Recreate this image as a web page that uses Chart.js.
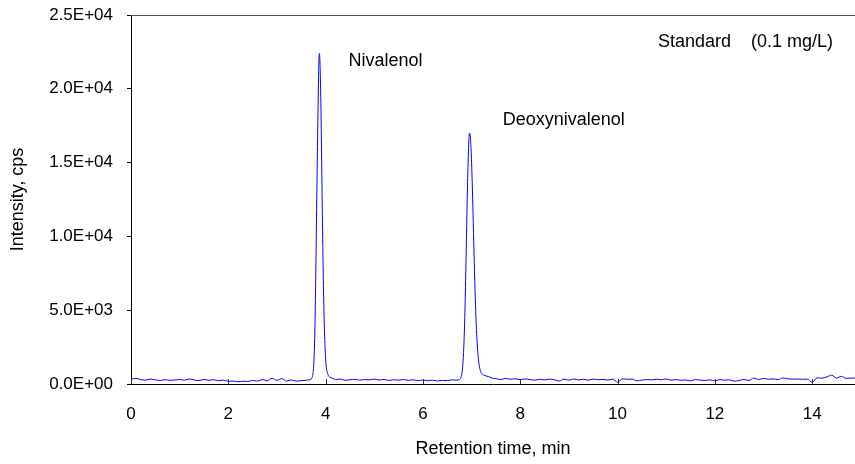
<!DOCTYPE html>
<html>
<head>
<meta charset="utf-8">
<script src="https://cdn.jsdelivr.net/npm/chart.js@4/dist/chart.umd.min.js"></script>
<style>
  html, body { margin: 0; padding: 0; background: #fff; }
  #wrap { width: 855px; height: 464px; position: relative; }
</style>
</head>
<body>
<div id="wrap"><canvas id="chart"></canvas></div>
<script>
// retention time (min) and intensity (cps)
const times = [
  0.0, 0.1, 0.2, 0.3, 0.4, 0.5, 0.6, 0.7, 0.8, 0.9,
  1.0, 1.1, 1.2, 1.3, 1.4, 1.5, 1.6, 1.7, 1.8, 1.9,
  2.0, 2.1, 2.2, 2.3, 2.4, 2.5, 2.6, 2.7, 2.8, 2.9,
  3.0, 3.1, 3.2, 3.3, 3.4, 3.5, 3.6,
  // nivalenol peak
  3.65, 3.70, 3.72, 3.74, 3.76, 3.78, 3.80, 3.82, 3.84, 3.86, 3.87, 3.88,
  3.90, 3.92, 3.94, 3.96, 3.98, 4.00, 4.02, 4.04, 4.06, 4.08, 4.11,
  4.15, 4.2, 4.3, 4.4, 4.5, 4.6, 4.7, 4.8, 4.9,
  5.0, 5.1, 5.2, 5.3, 5.4, 5.5, 5.6, 5.7, 5.8, 5.9,
  6.0, 6.1, 6.2, 6.3, 6.4, 6.5, 6.6, 6.7, 6.74,
  // deoxynivalenol peak
  6.76, 6.78, 6.80, 6.82, 6.84, 6.86, 6.88, 6.90, 6.92, 6.94, 6.96, 6.98,
  7.00, 7.02, 7.04, 7.06, 7.08, 7.10, 7.12, 7.14, 7.16, 7.18, 7.21, 7.25,
  7.30, 7.35, 7.40, 7.45,
  7.5, 7.6, 7.7, 7.8, 7.9, 8.0, 8.1, 8.2, 8.3, 8.4, 8.5, 8.6, 8.7, 8.8, 8.9,
  9.0, 9.1, 9.2, 9.3, 9.4, 9.5, 9.6, 9.7, 9.8, 9.9,
  10.0, 10.1, 10.2, 10.3, 10.4, 10.5, 10.6, 10.7, 10.8, 10.9,
  11.0, 11.1, 11.2, 11.3, 11.4, 11.5, 11.6, 11.7, 11.8, 11.9,
  12.0, 12.1, 12.2, 12.3, 12.4, 12.5, 12.6, 12.7, 12.8, 12.9,
  13.0, 13.1, 13.2, 13.3, 13.4, 13.5, 13.6, 13.7, 13.8, 13.9,
  14.0, 14.1, 14.2, 14.3, 14.4, 14.5, 14.6, 14.7, 14.8, 14.9
];
const intensity = [
  320, 380, 300, 260, 330, 280, 240, 290, 250, 270,
  300, 260, 340, 270, 230, 310, 250, 290, 220, 260,
  180, 200, 150, 190, 170, 240, 200, 300, 220, 380,
  250, 360, 200, 280, 190, 230, 250,
  280, 330, 420, 700, 1600, 3800, 8000, 13000, 17800, 21600, 22400, 22100,
  19500, 14800, 9800, 5800, 3200, 1700, 1000, 720, 560, 480, 430,
  380, 300, 340, 250, 290, 320, 260, 300, 280,
  330, 270, 310, 240, 290, 260, 300, 250, 280, 230,
  270, 220, 260, 200, 250, 230, 280, 260, 290,
  320, 420, 700, 1300, 2500, 4500, 7400, 10800, 14000, 16200, 17000, 16500,
  15000, 12800, 10200, 7600, 5400, 3700, 2500, 1700, 1200, 900, 700, 600,
  540, 500, 430, 380,
  360, 300, 380, 320, 350, 290, 340, 300, 260, 320, 280, 330, 290, 200, 330,
  260, 340, 280, 320, 260, 330, 290, 310, 270, 330,
  120, 350, 320, 330, 220, 260, 300, 280, 320, 290,
  340, 260, 300, 250, 270, 210, 300, 260, 240, 280,
  210, 300, 260, 280, 190, 250, 300, 240, 400, 300,
  380, 320, 340, 300, 410, 350, 330, 340, 320, 330,
  120, 420, 390, 480, 600, 400, 520, 380, 400, 400
];
const xTicks = [0, 2, 4, 6, 8, 10, 12, 14];
const yTicks = [0, 5000, 10000, 15000, 20000, 25000];
// peak names and the run note, placed in data units
const noteTexts = ["Nivalenol", "Deoxynivalenol", "Standard    (0.1 mg/L)"];
const noteX = [4.47, 7.64, 10.83];
const noteY = [21570, 17570, 22800];

const FONT = "'Liberation Sans', Arial, Helvetica, sans-serif";

function sci(v) {
  if (v === 0) return "0.0E+00";
  const e = Math.floor(Math.log10(Math.abs(v)));
  const m = (v / Math.pow(10, e)).toFixed(1);
  return m + "E" + (e < 0 ? "-" : "+") + String(Math.abs(e)).padStart(2, "0");
}

// tick marks pointing inward on the time axis, top frame line, text notes
const extras = {
  id: "extras",
  afterDraw(chart) {
    const ctx = chart.ctx;
    const x = chart.scales.x;
    const y = chart.scales.y;
    const area = chart.chartArea;
    ctx.save();
    ctx.strokeStyle = "#333";
    ctx.lineWidth = 1;
    ctx.beginPath();
    xTicks.forEach((t) => {
      const px = Math.round(x.getPixelForValue(t)) + 0.5;
      ctx.moveTo(px, area.bottom);
      ctx.lineTo(px, area.bottom - 5);
    });
    ctx.stroke();
    ctx.strokeStyle = "#555";
    ctx.beginPath();
    ctx.moveTo(area.left, Math.round(area.top) + 0.5);
    ctx.lineTo(area.right, Math.round(area.top) + 0.5);
    ctx.stroke();
    ctx.fillStyle = "#000";
    ctx.font = "18px " + FONT;
    ctx.textAlign = "left";
    ctx.textBaseline = "alphabetic";
    noteTexts.forEach((s, i) => {
      ctx.fillText(s, x.getPixelForValue(noteX[i]), y.getPixelForValue(noteY[i]));
    });
    ctx.restore();
  },
};

new Chart(document.getElementById("chart"), {
  type: "scatter",
  data: {
    datasets: [
      {
        label: "Standard (0.1 mg/L)",
        data: times.map((t, i) => ({ x: t, y: intensity[i] })),
        showLine: true,
        borderColor: "#0000ff",
        borderWidth: 1,
        pointRadius: 0,
        cubicInterpolationMode: "monotone",
      },
    ],
  },
  options: {
    responsive: true,
    maintainAspectRatio: false,
    animation: false,
    layout: { padding: { top: 15, right: 0, left: 0, bottom: 0 } },
    plugins: { legend: { display: false }, tooltip: { enabled: false } },
    scales: {
      x: {
        type: "linear",
        min: 0,
        max: 14.88,
        afterFit: (s) => { s.height = 80; s.paddingLeft = 0; s.paddingRight = 0; },
        afterBuildTicks: (s) => { s.ticks = xTicks.map((v) => ({ value: v })); },
        grid: { display: false, drawTicks: false },
        border: { display: true, color: "#000", width: 1 },
        ticks: {
          color: "#000",
          padding: 20,
          font: { family: FONT, size: 17 },
          callback: (v) => String(v),
        },
        title: {
          display: true,
          text: "Retention time, min",
          color: "#000",
          font: { family: FONT, size: 18 },
          padding: { top: 0, bottom: 4 },
        },
      },
      y: {
        min: 0,
        max: 25000,
        // keep the plot top at the layout padding, not label padding
        afterFit: (s) => { s.width = 131; s.paddingTop = 0; s.paddingBottom = 0; },
        afterBuildTicks: (s) => { s.ticks = yTicks.map((v) => ({ value: v })); },
        grid: {
          display: true,
          drawOnChartArea: false,
          drawTicks: true,
          tickLength: 4,
          color: "#000",
        },
        border: { display: true, color: "#000", width: 1 },
        ticks: {
          color: "#000",
          padding: 14,
          font: { family: FONT, size: 17 },
          callback: (v) => sci(v),
        },
        title: {
          display: true,
          text: "Intensity, cps",
          color: "#000",
          font: { family: FONT, size: 18 },
          padding: { top: 7, bottom: 0 },
        },
      },
    },
  },
  plugins: [extras],
});
</script>
</body>
</html>
